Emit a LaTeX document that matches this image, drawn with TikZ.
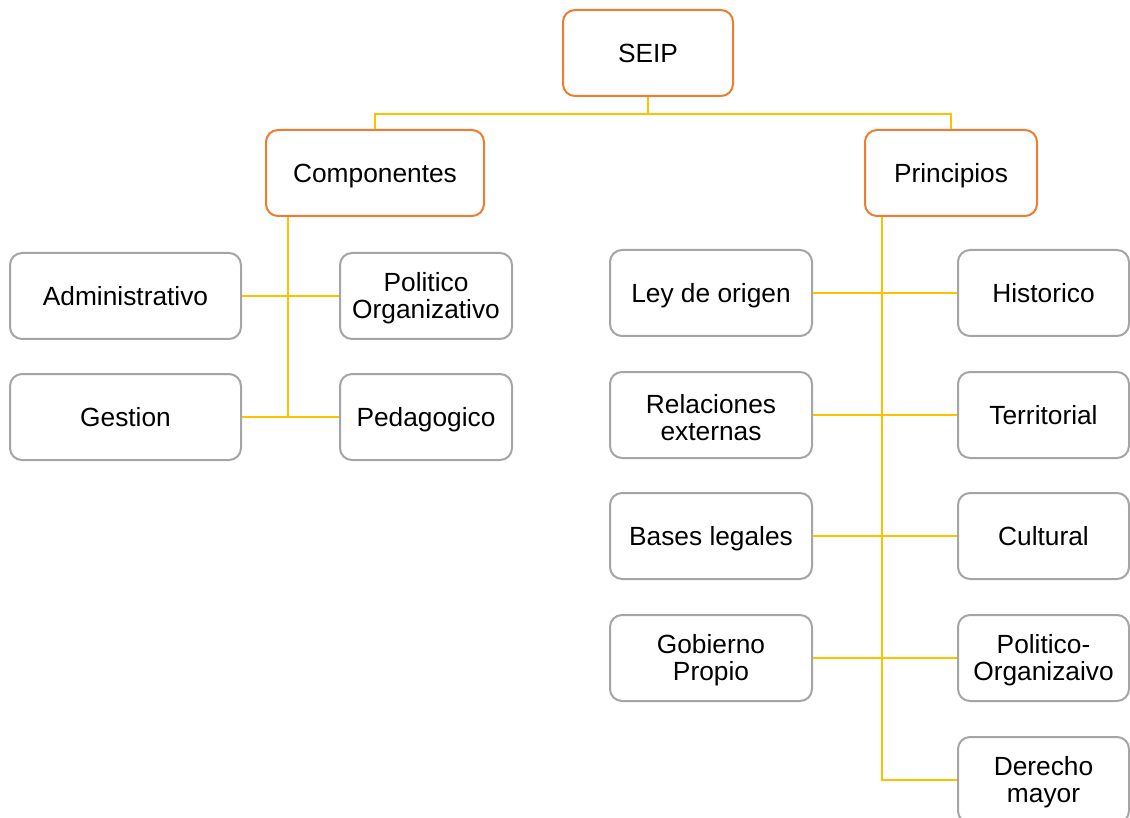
\documentclass[tikz,border=0pt]{standalone}
\usepackage{fontspec}
\setmainfont{Liberation Sans}
\definecolor{orangeb}{HTML}{ED7D31}
\definecolor{greyb}{HTML}{A5A5A5}
\definecolor{yel}{HTML}{FFC000}
\newcommand{\firstline}{\rule{0pt}{24pt}}
\begin{document}
\begin{tikzpicture}[x=1pt,y=-1pt,
  box/.style={draw=greyb, line width=2pt, rounded corners=12pt, fill=white, inner sep=0pt, align=center,
    minimum height=86pt, font=\fontsize{26.3}{27}\selectfont, text height=18.8pt, text depth=0pt},
  two/.style={text height=, text depth=},
  topbox/.style={box, draw=orangeb},
  link/.style={draw=yel, line width=1.6pt}]
\useasboundingbox (0,0) rectangle (1130,818);
% top level
\node[topbox, minimum width=170pt] (seip) at (648,53) {SEIP};
\node[topbox, minimum width=218pt] (comp) at (375,173) {Componentes};
\node[topbox, minimum width=172pt] (prin) at (951,173) {Principios};
% componentes
\node[box, minimum width=231pt] (adm) at (125.5,296) {Administrativo};
\node[box, two, minimum width=172pt] (pol) at (426,296) {\firstline Politico\\Organizativo};
\node[box, minimum width=231pt] (ges) at (125.5,417) {Gestion};
\node[box, minimum width=172pt] (ped) at (426,417) {Pedagogico};
% principios left column
\node[box, minimum width=202pt] (ley) at (711,293) {Ley de origen};
\node[box, two, minimum width=202pt] (rel) at (711,415) {\firstline Relaciones\\externas};
\node[box, minimum width=202pt] (bas) at (711,536) {Bases legales};
\node[box, two, minimum width=202pt] (gob) at (711,658) {\firstline Gobierno\\Propio};
% principios right column
\node[box, minimum width=171pt] (his) at (1043.5,293) {Historico};
\node[box, minimum width=171pt] (ter) at (1043.5,415) {Territorial};
\node[box, minimum width=171pt] (cul) at (1043.5,536) {Cultural};
\node[box, two, minimum width=171pt] (pox) at (1043.5,658) {\firstline Politico-\\Organizaivo};
\node[box, two, minimum width=171pt] (der) at (1043.5,780) {\firstline Derecho\\mayor};
% connectors
\draw[link] (seip.south) -- ++(0,17) -| (comp.north);
\draw[link] (seip.south) -- ++(0,17) -| (prin.north);
\draw[link] ([xshift=-87pt]comp.south) -- ([xshift=-87pt]comp.south |- ges.east);
\draw[link] (adm.east) -- (pol.west);
\draw[link] (ges.east) -- (ped.west);
\draw[link] ([xshift=-69pt]prin.south) |- (der.west);
\draw[link] (ley.east) -- (his.west);
\draw[link] (rel.east) -- (ter.west);
\draw[link] (bas.east) -- (cul.west);
\draw[link] (gob.east) -- (pox.west);
\end{tikzpicture}
\end{document}
